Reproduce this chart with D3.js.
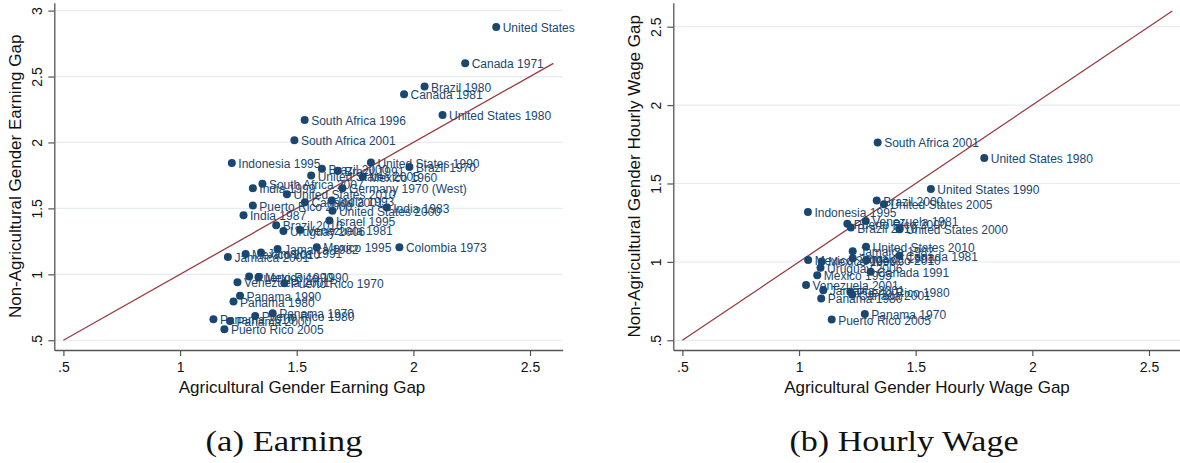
<!DOCTYPE html>
<html>
<head>
<meta charset="utf-8">
<script src="https://cdn.jsdelivr.net/npm/d3@7"></script>
<style>
  html, body { margin: 0; padding: 0; background: #fff; }
  svg { display: block; }
</style>
</head>
<body>
<svg id="chart" width="1180" height="463"></svg>
<script>
// Panel (a): gender earning gaps, agricultural vs non-agricultural
const earnLabels = [
  "United States", "Canada 1971", "Brazil 1980", "Canada 1981", "United States 1980",
  "South Africa 1996", "South Africa 2001", "Indonesia 1995", "Brazil 2000", "Brazil 1991",
  "United States 1990", "Brazil 1970", "United States 2005", "Mexico 1960", "South Africa 2007",
  "India 1999", "United States 2010", "Germany 1970 (West)", "Puerto Rico 2000", "Canada 2001",
  "India 1993", "United States 2000", "India 1983", "India 1987", "Israel 1995",
  "Brazil 2010", "Uruguay 2006", "Venezuela 1981", "Jamaica 1982", "Mexico 1995",
  "Colombia 1973", "Mexico 2010", "Jamaica 1991", "Jamaica 2001", "Puerto Rico 1990",
  "Mexico 1990", "Venezuela 2001", "Puerto Rico 1970", "Panama 1990", "Panama 1980",
  "Panama 2010", "Panama 2000", "Puerto Rico 1980", "Panama 1970", "Puerto Rico 2005"
];
const earnAgri = [
  2.355, 2.222, 2.048, 1.960, 2.125,
  1.534, 1.490, 1.222, 1.608, 1.676,
  1.818, 1.983, 1.562, 1.783, 1.353,
  1.312, 1.458, 1.696, 1.312, 1.535,
  1.650, 1.653, 1.886, 1.272, 1.640,
  1.412, 1.443, 1.515, 1.418, 1.586,
  1.940, 1.281, 1.347, 1.205, 1.296,
  1.336, 1.246, 1.447, 1.257, 1.229,
  1.143, 1.214, 1.322, 1.397, 1.190
];
const earnNonAgri = [
  2.876, 2.600, 2.424, 2.365, 2.208,
  2.170, 2.017, 1.844, 1.800, 1.785,
  1.848, 1.813, 1.749, 1.740, 1.686,
  1.653, 1.608, 1.653, 1.521, 1.547,
  1.559, 1.483, 1.506, 1.448, 1.408,
  1.372, 1.329, 1.337, 1.192, 1.205,
  1.205, 1.154, 1.165, 1.132, 0.983,
  0.978, 0.940, 0.932, 0.838, 0.793,
  0.659, 0.646, 0.684, 0.705, 0.583
];

// Panel (b): gender hourly wage gaps
const wageLabels = [
  "South Africa 2001", "United States 1980", "United States 1990", "Brazil 2000", "United States 2005",
  "Indonesia 1995", "Puerto Rico 2000", "Venezuela 1981", "Brazil 2010", "United States 2000",
  "United States 2010", "Jamaica 1982", "Canada 1981", "Jamaica 1991", "Mexico 2010",
  "Mexico 2000", "Mexico 1990", "Uruguay 2006", "Canada 1991", "Mexico 1995",
  "Venezuela 2001", "Jamaica 2001", "Puerto Rico 1980", "Canada 2001", "Panama 1980",
  "Panama 1970", "Puerto Rico 2005"
];
const wageAgri = [
  1.337, 1.794, 1.565, 1.333, 1.364,
  1.038, 1.207, 1.286, 1.222, 1.430,
  1.287, 1.230, 1.430, 1.230, 1.288,
  1.039, 1.097, 1.092, 1.307, 1.078,
  1.030, 1.104, 1.220, 1.228, 1.095,
  1.282, 1.140
];
const wageNonAgri = [
  1.762, 1.663, 1.465, 1.391, 1.368,
  1.318, 1.243, 1.260, 1.219, 1.208,
  1.097, 1.068, 1.039, 1.023, 1.011,
  1.012, 1.003, 0.962, 0.937, 0.915,
  0.853, 0.819, 0.810, 0.790, 0.767,
  0.668, 0.632
];

const earnYTicks = [0.5, 1, 1.5, 2, 2.5, 3];
const wageYTicks = [0.5, 1, 1.5, 2, 2.5];
const xTicks = [0.5, 1, 1.5, 2, 2.5];
const diagonal = [0.5, 2.6];

const fmt = v => (v < 1 ? String(v).replace(/^0/, "") : String(v));

const NAVY = "#1a476f";
const SANS = "'Liberation Sans', Arial, Helvetica, sans-serif";
const SERIF = "'Liberation Serif', 'DejaVu Serif', serif";

const svg = d3.select("#chart");

function panel(cfg) {
  const x = d3.scaleLinear().domain(cfg.xDomain).range(cfg.xRange);
  const y = d3.scaleLinear().domain(cfg.yDomain).range(cfg.yRange);
  const g = svg.append("g");

  // horizontal grid
  g.append("g").selectAll("line").data(cfg.yTicks).join("line")
    .attr("x1", cfg.xRange[0]).attr("x2", cfg.xRange[1])
    .attr("y1", d => y(d)).attr("y2", d => y(d))
    .attr("stroke", "#e4edf0").attr("stroke-width", 1.2);

  // 45-degree reference line
  g.append("line")
    .attr("x1", x(diagonal[0])).attr("y1", y(diagonal[0]))
    .attr("x2", x(diagonal[1])).attr("y2", y(diagonal[1]))
    .attr("stroke", "#9a3a40").attr("stroke-width", 1.3);

  // x axis
  const xa = g.append("g")
    .attr("transform", `translate(0,${cfg.yRange[0]})`)
    .call(d3.axisBottom(x).tickValues(xTicks).tickFormat(fmt)
      .tickSize(6).tickSizeOuter(0).tickPadding(6));
  // y axis
  const ya = g.append("g")
    .attr("transform", `translate(${cfg.xRange[0]},0)`)
    .call(d3.axisLeft(y).tickValues(cfg.yTicks).tickFormat(fmt)
      .tickSize(6).tickSizeOuter(0).tickPadding(6));

  [xa, ya].forEach(a => {
    a.select(".domain").attr("stroke", "#555").attr("stroke-width", 1.3);
    a.selectAll(".tick line").attr("stroke", "#555").attr("stroke-width", 1.2);
    a.selectAll("text").attr("fill", "#111").style("font-family", SANS).style("font-size", "14px");
  });
  ya.selectAll(".tick text")
    .attr("x", null).attr("dy", null)
    .attr("text-anchor", "middle")
    .attr("dominant-baseline", "central")
    .attr("transform", "translate(-17,0) rotate(-90)");

  // points
  const pts = cfg.agri.map((a, i) => ({ a, n: cfg.nonAgri[i], label: cfg.labels[i] }));
  g.append("g").selectAll("circle").data(pts).join("circle")
    .attr("cx", d => x(d.a)).attr("cy", d => y(d.n)).attr("r", 4)
    .attr("fill", NAVY);
  g.append("g").selectAll("text").data(pts).join("text")
    .attr("x", d => x(d.a) + 6.5).attr("y", d => y(d.n) + 1)
    .attr("dominant-baseline", "central")
    .attr("fill", NAVY)
    .style("font-family", SANS).style("font-size", "12px")
    .text(d => d.label);

  // axis titles
  g.append("text")
    .attr("x", cfg.xTitleX).attr("y", 387)
    .attr("text-anchor", "middle").attr("dominant-baseline", "central")
    .attr("fill", "#111")
    .style("font-family", SANS).style("font-size", "17px")
    .text(cfg.xTitle);
  g.append("text")
    .attr("transform", `translate(${cfg.yTitleX},${(cfg.yRange[0] + cfg.yRange[1]) / 2}) rotate(-90)`)
    .attr("text-anchor", "middle").attr("dominant-baseline", "central")
    .attr("fill", "#111")
    .style("font-family", SANS).style("font-size", "17px")
    .text(cfg.yTitle);

  // panel caption
  g.append("text")
    .attr("x", cfg.capX).attr("y", 441)
    .attr("text-anchor", "middle").attr("dominant-baseline", "central")
    .attr("fill", "#111")
    .attr("textLength", cfg.capW).attr("lengthAdjust", "spacingAndGlyphs")
    .style("font-family", SERIF).style("font-size", "29px")
    .text(cfg.caption);
}

panel({
  labels: earnLabels, agri: earnAgri, nonAgri: earnNonAgri,
  xDomain: [0.461, 2.640], xRange: [54.3, 562.7],
  yDomain: [0.426, 3.06], yRange: [350, 2.7],
  yTicks: earnYTicks,
  xTitle: "Agricultural Gender Earning Gap", xTitleX: 302,
  yTitle: "Non-Agricultural Gender Earning Gap", yTitleX: 15,
  caption: "(a) Earning", capX: 284, capW: 157
});

panel({
  labels: wageLabels, agri: wageAgri, nonAgri: wageNonAgri,
  xDomain: [0.461, 2.633], xRange: [673.3, 1180],
  yDomain: [0.438, 2.653], yRange: [350, 2.7],
  yTicks: wageYTicks,
  xTitle: "Agricultural Gender Hourly Wage Gap", xTitleX: 927,
  yTitle: "Non-Agricultural Gender Hourly Wage Gap", yTitleX: 634,
  caption: "(b) Hourly Wage", capX: 904, capW: 229
});
</script>
</body>
</html>
